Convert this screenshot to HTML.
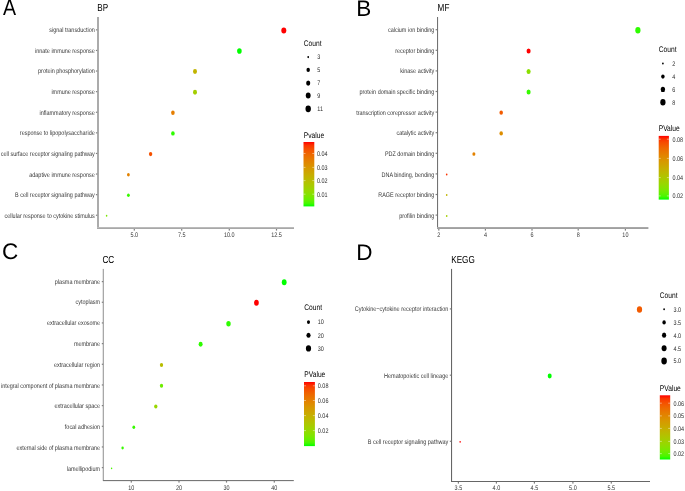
<!DOCTYPE html>
<html><head><meta charset="utf-8"><style>
html,body{margin:0;padding:0;background:#fff;}
svg{display:block;will-change:transform;}
text{font-family:"Liberation Sans",sans-serif;text-rendering:geometricPrecision;}
</style></head><body>
<svg width="685" height="491" viewBox="0 0 685 491">
<rect width="685" height="491" fill="#fff"/>
<text transform="translate(97.30,10.90) scale(0.8,1)" font-size="10.2" fill="#000" text-anchor="start">BP</text>
<rect x="97" y="17" width="2" height="212" fill="#ababab"/>
<rect x="97" y="227" width="197" height="1" fill="#bababa"/>
<rect x="97" y="228" width="197" height="1" fill="#a8a8a8"/>
<rect x="95.9" y="29.25" width="1.4" height="1.2" fill="#808080"/>
<text transform="translate(94.70,31.85) scale(0.815,1)" font-size="6.7" fill="#363636" text-anchor="end">signal transduction</text>
<rect x="95.9" y="49.85" width="1.4" height="1.2" fill="#808080"/>
<text transform="translate(94.70,52.55) scale(0.815,1)" font-size="6.7" fill="#363636" text-anchor="end">innate immune response</text>
<rect x="95.9" y="70.45" width="1.4" height="1.2" fill="#808080"/>
<text transform="translate(94.70,73.25) scale(0.815,1)" font-size="6.7" fill="#363636" text-anchor="end">protein phosphorylation</text>
<rect x="95.9" y="91.05" width="1.4" height="1.2" fill="#808080"/>
<text transform="translate(94.70,93.95) scale(0.815,1)" font-size="6.7" fill="#363636" text-anchor="end">immune response</text>
<rect x="95.9" y="111.65" width="1.4" height="1.2" fill="#808080"/>
<text transform="translate(94.70,114.65) scale(0.815,1)" font-size="6.7" fill="#363636" text-anchor="end">inflammatory response</text>
<rect x="95.9" y="132.25" width="1.4" height="1.2" fill="#808080"/>
<text transform="translate(94.70,135.35) scale(0.815,1)" font-size="6.7" fill="#363636" text-anchor="end">response to lipopolysaccharide</text>
<rect x="95.9" y="152.85" width="1.4" height="1.2" fill="#808080"/>
<text transform="translate(94.70,156.05) scale(0.815,1)" font-size="6.7" fill="#363636" text-anchor="end">cell surface receptor signaling pathway</text>
<rect x="95.9" y="173.45" width="1.4" height="1.2" fill="#808080"/>
<text transform="translate(94.70,176.75) scale(0.815,1)" font-size="6.7" fill="#363636" text-anchor="end">adaptive immune response</text>
<rect x="95.9" y="194.05" width="1.4" height="1.2" fill="#808080"/>
<text transform="translate(94.70,197.45) scale(0.815,1)" font-size="6.7" fill="#363636" text-anchor="end">B cell receptor signaling pathway</text>
<rect x="95.9" y="214.65" width="1.4" height="1.2" fill="#808080"/>
<text transform="translate(94.70,218.15) scale(0.815,1)" font-size="6.7" fill="#363636" text-anchor="end">cellular response to cytokine stimulus</text>
<rect x="133.70" y="229" width="1.2" height="1.6" fill="#808080"/>
<text transform="translate(134.30,237.00) scale(0.815,1)" font-size="6.7" fill="#363636" text-anchor="middle">5.0</text>
<rect x="181.10" y="229" width="1.2" height="1.6" fill="#808080"/>
<text transform="translate(181.70,237.00) scale(0.815,1)" font-size="6.7" fill="#363636" text-anchor="middle">7.5</text>
<rect x="228.70" y="229" width="1.2" height="1.6" fill="#808080"/>
<text transform="translate(229.30,237.00) scale(0.815,1)" font-size="6.7" fill="#363636" text-anchor="middle">10.0</text>
<rect x="275.90" y="229" width="1.2" height="1.6" fill="#808080"/>
<text transform="translate(276.50,237.00) scale(0.815,1)" font-size="6.7" fill="#363636" text-anchor="middle">12.5</text>
<ellipse cx="283.80" cy="30.50" rx="2.50" ry="3.07" fill="#ff0000"/>
<ellipse cx="239.40" cy="51.00" rx="2.30" ry="2.82" fill="#00ff00"/>
<ellipse cx="195.00" cy="71.50" rx="2.00" ry="2.45" fill="#c1b400"/>
<ellipse cx="195.00" cy="92.30" rx="2.00" ry="2.45" fill="#a4ce00"/>
<ellipse cx="172.90" cy="112.80" rx="1.80" ry="2.21" fill="#e57e00"/>
<ellipse cx="172.90" cy="133.40" rx="1.80" ry="2.21" fill="#2efc00"/>
<ellipse cx="150.60" cy="154.10" rx="1.70" ry="2.09" fill="#f55100"/>
<ellipse cx="128.40" cy="174.70" rx="1.40" ry="1.72" fill="#e38200"/>
<ellipse cx="128.40" cy="195.20" rx="1.40" ry="1.72" fill="#38fa00"/>
<ellipse cx="106.60" cy="215.80" rx="0.80" ry="0.98" fill="#7ae700"/>
<text transform="translate(303.80,46.00) scale(0.815,1)" font-size="8.2" fill="#000" text-anchor="start">Count</text>
<ellipse cx="308.20" cy="57.10" rx="0.88" ry="1.07" fill="#000"/>
<text transform="translate(317.30,59.40) scale(0.815,1)" font-size="6.7" fill="#2b2b2b" text-anchor="start">3</text>
<ellipse cx="308.20" cy="69.90" rx="1.73" ry="2.12" fill="#000"/>
<text transform="translate(317.30,72.20) scale(0.815,1)" font-size="6.7" fill="#2b2b2b" text-anchor="start">5</text>
<ellipse cx="308.20" cy="83.10" rx="2.08" ry="2.55" fill="#000"/>
<text transform="translate(317.30,85.40) scale(0.815,1)" font-size="6.7" fill="#2b2b2b" text-anchor="start">7</text>
<ellipse cx="308.20" cy="95.60" rx="2.43" ry="2.98" fill="#000"/>
<text transform="translate(317.30,97.90) scale(0.815,1)" font-size="6.7" fill="#2b2b2b" text-anchor="start">9</text>
<ellipse cx="308.20" cy="108.80" rx="2.73" ry="3.34" fill="#000"/>
<text transform="translate(317.30,111.10) scale(0.815,1)" font-size="6.7" fill="#2b2b2b" text-anchor="start">11</text>
<text transform="translate(303.80,137.60) scale(0.815,1)" font-size="8.2" fill="#000" text-anchor="start">Pvalue</text>
<defs><linearGradient id="g1" x1="0" y1="0" x2="0" y2="1"><stop offset="0.000" stop-color="#ff0000"/><stop offset="0.050" stop-color="#fb3300"/><stop offset="0.100" stop-color="#f74a00"/><stop offset="0.150" stop-color="#f25b00"/><stop offset="0.200" stop-color="#ed6a00"/><stop offset="0.250" stop-color="#e87600"/><stop offset="0.300" stop-color="#e38200"/><stop offset="0.350" stop-color="#dd8d00"/><stop offset="0.400" stop-color="#d79800"/><stop offset="0.450" stop-color="#d0a100"/><stop offset="0.500" stop-color="#c9ab00"/><stop offset="0.550" stop-color="#c1b400"/><stop offset="0.600" stop-color="#b8bd00"/><stop offset="0.650" stop-color="#aec600"/><stop offset="0.700" stop-color="#a4ce00"/><stop offset="0.750" stop-color="#98d700"/><stop offset="0.800" stop-color="#8adf00"/><stop offset="0.850" stop-color="#7ae700"/><stop offset="0.900" stop-color="#65ef00"/><stop offset="0.950" stop-color="#49f700"/><stop offset="1.000" stop-color="#00ff00"/></linearGradient></defs>
<rect x="303.5" y="142.0" width="10.800000000000011" height="64.4" fill="url(#g1)"/>
<line x1="303.50" y1="153.50" x2="305.50" y2="153.50" stroke="#ffffff" stroke-width="0.45"/>
<line x1="312.30" y1="153.50" x2="314.30" y2="153.50" stroke="#ffffff" stroke-width="0.45"/>
<text transform="translate(317.00,155.80) scale(0.815,1)" font-size="6.7" fill="#2b2b2b" text-anchor="start">0.04</text>
<line x1="303.50" y1="167.40" x2="305.50" y2="167.40" stroke="#ffffff" stroke-width="0.45"/>
<line x1="312.30" y1="167.40" x2="314.30" y2="167.40" stroke="#ffffff" stroke-width="0.45"/>
<text transform="translate(317.00,169.70) scale(0.815,1)" font-size="6.7" fill="#2b2b2b" text-anchor="start">0.03</text>
<line x1="303.50" y1="180.60" x2="305.50" y2="180.60" stroke="#ffffff" stroke-width="0.45"/>
<line x1="312.30" y1="180.60" x2="314.30" y2="180.60" stroke="#ffffff" stroke-width="0.45"/>
<text transform="translate(317.00,182.90) scale(0.815,1)" font-size="6.7" fill="#2b2b2b" text-anchor="start">0.02</text>
<line x1="303.50" y1="194.20" x2="305.50" y2="194.20" stroke="#ffffff" stroke-width="0.45"/>
<line x1="312.30" y1="194.20" x2="314.30" y2="194.20" stroke="#ffffff" stroke-width="0.45"/>
<text transform="translate(317.00,196.50) scale(0.815,1)" font-size="6.7" fill="#2b2b2b" text-anchor="start">0.01</text>
<text transform="translate(437.60,10.90) scale(0.8,1)" font-size="10.2" fill="#000" text-anchor="start">MF</text>
<rect x="437" y="17" width="1" height="212" fill="#727272"/>
<rect x="438" y="17" width="0.5" height="212" fill="#e8e8e8"/>
<rect x="437" y="227" width="211.4" height="1" fill="#a8a8a8"/>
<rect x="437" y="228" width="211.4" height="1" fill="#a0a0a0"/>
<rect x="435.6" y="29.10" width="1.4" height="1.2" fill="#808080"/>
<text transform="translate(434.30,31.80) scale(0.815,1)" font-size="6.7" fill="#363636" text-anchor="end">calcium ion binding</text>
<rect x="435.6" y="49.70" width="1.4" height="1.2" fill="#808080"/>
<text transform="translate(434.30,52.50) scale(0.815,1)" font-size="6.7" fill="#363636" text-anchor="end">receptor binding</text>
<rect x="435.6" y="70.30" width="1.4" height="1.2" fill="#808080"/>
<text transform="translate(434.30,73.20) scale(0.815,1)" font-size="6.7" fill="#363636" text-anchor="end">kinase activity</text>
<rect x="435.6" y="90.90" width="1.4" height="1.2" fill="#808080"/>
<text transform="translate(434.30,93.90) scale(0.815,1)" font-size="6.7" fill="#363636" text-anchor="end">protein domain specific binding</text>
<rect x="435.6" y="111.50" width="1.4" height="1.2" fill="#808080"/>
<text transform="translate(434.30,114.60) scale(0.815,1)" font-size="6.7" fill="#363636" text-anchor="end">transcription corepressor activity</text>
<rect x="435.6" y="132.10" width="1.4" height="1.2" fill="#808080"/>
<text transform="translate(434.30,135.30) scale(0.815,1)" font-size="6.7" fill="#363636" text-anchor="end">catalytic activity</text>
<rect x="435.6" y="152.70" width="1.4" height="1.2" fill="#808080"/>
<text transform="translate(434.30,156.00) scale(0.815,1)" font-size="6.7" fill="#363636" text-anchor="end">PDZ domain binding</text>
<rect x="435.6" y="173.30" width="1.4" height="1.2" fill="#808080"/>
<text transform="translate(434.30,176.70) scale(0.815,1)" font-size="6.7" fill="#363636" text-anchor="end">DNA binding, bending</text>
<rect x="435.6" y="193.90" width="1.4" height="1.2" fill="#808080"/>
<text transform="translate(434.30,197.40) scale(0.815,1)" font-size="6.7" fill="#363636" text-anchor="end">RAGE receptor binding</text>
<rect x="435.6" y="214.50" width="1.4" height="1.2" fill="#808080"/>
<text transform="translate(434.30,218.10) scale(0.815,1)" font-size="6.7" fill="#363636" text-anchor="end">profilin binding</text>
<rect x="438.20" y="229" width="1.2" height="1.6" fill="#808080"/>
<text transform="translate(438.80,236.90) scale(0.815,1)" font-size="6.7" fill="#363636" text-anchor="middle">2</text>
<rect x="484.80" y="229" width="1.2" height="1.6" fill="#808080"/>
<text transform="translate(485.40,236.90) scale(0.815,1)" font-size="6.7" fill="#363636" text-anchor="middle">4</text>
<rect x="531.40" y="229" width="1.2" height="1.6" fill="#808080"/>
<text transform="translate(532.00,236.90) scale(0.815,1)" font-size="6.7" fill="#363636" text-anchor="middle">6</text>
<rect x="577.60" y="229" width="1.2" height="1.6" fill="#808080"/>
<text transform="translate(578.20,236.90) scale(0.815,1)" font-size="6.7" fill="#363636" text-anchor="middle">8</text>
<rect x="624.80" y="229" width="1.2" height="1.6" fill="#808080"/>
<text transform="translate(625.40,236.90) scale(0.815,1)" font-size="6.7" fill="#363636" text-anchor="middle">10</text>
<ellipse cx="637.90" cy="30.20" rx="2.60" ry="3.19" fill="#2efc00"/>
<ellipse cx="528.60" cy="50.90" rx="2.05" ry="2.52" fill="#ff0000"/>
<ellipse cx="528.60" cy="71.50" rx="2.05" ry="2.52" fill="#8adf00"/>
<ellipse cx="528.60" cy="91.90" rx="2.05" ry="2.52" fill="#38fa00"/>
<ellipse cx="501.20" cy="112.70" rx="1.75" ry="2.15" fill="#f25b00"/>
<ellipse cx="501.20" cy="133.40" rx="1.75" ry="2.15" fill="#dd8d00"/>
<ellipse cx="473.90" cy="154.00" rx="1.50" ry="1.84" fill="#e38200"/>
<ellipse cx="446.70" cy="174.40" rx="0.80" ry="0.98" fill="#fb3300"/>
<ellipse cx="446.70" cy="195.00" rx="0.80" ry="0.98" fill="#c1b400"/>
<ellipse cx="446.70" cy="215.90" rx="0.80" ry="0.98" fill="#a4ce00"/>
<text transform="translate(658.70,52.30) scale(0.815,1)" font-size="8.2" fill="#000" text-anchor="start">Count</text>
<ellipse cx="662.90" cy="63.50" rx="0.88" ry="1.07" fill="#000"/>
<text transform="translate(672.20,65.80) scale(0.815,1)" font-size="6.7" fill="#2b2b2b" text-anchor="start">2</text>
<ellipse cx="662.90" cy="76.60" rx="1.73" ry="2.12" fill="#000"/>
<text transform="translate(672.20,78.90) scale(0.815,1)" font-size="6.7" fill="#2b2b2b" text-anchor="start">4</text>
<ellipse cx="662.90" cy="89.40" rx="2.17" ry="2.67" fill="#000"/>
<text transform="translate(672.20,91.70) scale(0.815,1)" font-size="6.7" fill="#2b2b2b" text-anchor="start">6</text>
<ellipse cx="662.90" cy="102.30" rx="2.62" ry="3.22" fill="#000"/>
<text transform="translate(672.20,104.60) scale(0.815,1)" font-size="6.7" fill="#2b2b2b" text-anchor="start">8</text>
<text transform="translate(658.70,131.00) scale(0.815,1)" font-size="8.2" fill="#000" text-anchor="start">PValue</text>
<defs><linearGradient id="g2" x1="0" y1="0" x2="0" y2="1"><stop offset="0.000" stop-color="#ff0000"/><stop offset="0.050" stop-color="#fb3300"/><stop offset="0.100" stop-color="#f74a00"/><stop offset="0.150" stop-color="#f25b00"/><stop offset="0.200" stop-color="#ed6a00"/><stop offset="0.250" stop-color="#e87600"/><stop offset="0.300" stop-color="#e38200"/><stop offset="0.350" stop-color="#dd8d00"/><stop offset="0.400" stop-color="#d79800"/><stop offset="0.450" stop-color="#d0a100"/><stop offset="0.500" stop-color="#c9ab00"/><stop offset="0.550" stop-color="#c1b400"/><stop offset="0.600" stop-color="#b8bd00"/><stop offset="0.650" stop-color="#aec600"/><stop offset="0.700" stop-color="#a4ce00"/><stop offset="0.750" stop-color="#98d700"/><stop offset="0.800" stop-color="#8adf00"/><stop offset="0.850" stop-color="#7ae700"/><stop offset="0.900" stop-color="#65ef00"/><stop offset="0.950" stop-color="#49f700"/><stop offset="1.000" stop-color="#00ff00"/></linearGradient></defs>
<rect x="658.7" y="135.9" width="10.199999999999932" height="63.69999999999999" fill="url(#g2)"/>
<line x1="658.70" y1="139.20" x2="660.70" y2="139.20" stroke="#ffffff" stroke-width="0.45"/>
<line x1="666.90" y1="139.20" x2="668.90" y2="139.20" stroke="#ffffff" stroke-width="0.45"/>
<text transform="translate(672.50,141.50) scale(0.815,1)" font-size="6.7" fill="#2b2b2b" text-anchor="start">0.08</text>
<line x1="658.70" y1="158.40" x2="660.70" y2="158.40" stroke="#ffffff" stroke-width="0.45"/>
<line x1="666.90" y1="158.40" x2="668.90" y2="158.40" stroke="#ffffff" stroke-width="0.45"/>
<text transform="translate(672.50,160.70) scale(0.815,1)" font-size="6.7" fill="#2b2b2b" text-anchor="start">0.06</text>
<line x1="658.70" y1="177.60" x2="660.70" y2="177.60" stroke="#ffffff" stroke-width="0.45"/>
<line x1="666.90" y1="177.60" x2="668.90" y2="177.60" stroke="#ffffff" stroke-width="0.45"/>
<text transform="translate(672.50,179.90) scale(0.815,1)" font-size="6.7" fill="#2b2b2b" text-anchor="start">0.04</text>
<line x1="658.70" y1="195.90" x2="660.70" y2="195.90" stroke="#ffffff" stroke-width="0.45"/>
<line x1="666.90" y1="195.90" x2="668.90" y2="195.90" stroke="#ffffff" stroke-width="0.45"/>
<text transform="translate(672.50,198.20) scale(0.815,1)" font-size="6.7" fill="#2b2b2b" text-anchor="start">0.02</text>
<text transform="translate(102.40,262.70) scale(0.8,1)" font-size="10.2" fill="#000" text-anchor="start">CC</text>
<rect x="103" y="268.9" width="1" height="212" fill="#a8a8a8"/>
<rect x="102" y="268.9" width="1" height="212" fill="#e4e4e4"/>
<rect x="103" y="480" width="190.8" height="1" fill="#777777"/>
<rect x="103" y="481" width="190.8" height="0.5" fill="#dddddd"/>
<rect x="101.8" y="281.00" width="1.4" height="1.2" fill="#808080"/>
<text transform="translate(100.00,283.70) scale(0.815,1)" font-size="6.7" fill="#363636" text-anchor="end">plasma membrane</text>
<rect x="101.8" y="301.67" width="1.4" height="1.2" fill="#808080"/>
<text transform="translate(100.00,304.48) scale(0.815,1)" font-size="6.7" fill="#363636" text-anchor="end">cytoplasm</text>
<rect x="101.8" y="322.34" width="1.4" height="1.2" fill="#808080"/>
<text transform="translate(100.00,325.26) scale(0.815,1)" font-size="6.7" fill="#363636" text-anchor="end">extracellular exosome</text>
<rect x="101.8" y="343.01" width="1.4" height="1.2" fill="#808080"/>
<text transform="translate(100.00,346.04) scale(0.815,1)" font-size="6.7" fill="#363636" text-anchor="end">membrane</text>
<rect x="101.8" y="363.68" width="1.4" height="1.2" fill="#808080"/>
<text transform="translate(100.00,366.82) scale(0.815,1)" font-size="6.7" fill="#363636" text-anchor="end">extracellular region</text>
<rect x="101.8" y="384.35" width="1.4" height="1.2" fill="#808080"/>
<text transform="translate(100.00,387.60) scale(0.815,1)" font-size="6.7" fill="#363636" text-anchor="end">integral component of plasma membrane</text>
<rect x="101.8" y="405.02" width="1.4" height="1.2" fill="#808080"/>
<text transform="translate(100.00,408.38) scale(0.815,1)" font-size="6.7" fill="#363636" text-anchor="end">extracellular space</text>
<rect x="101.8" y="425.69" width="1.4" height="1.2" fill="#808080"/>
<text transform="translate(100.00,429.16) scale(0.815,1)" font-size="6.7" fill="#363636" text-anchor="end">focal adhesion</text>
<rect x="101.8" y="446.36" width="1.4" height="1.2" fill="#808080"/>
<text transform="translate(100.00,449.94) scale(0.815,1)" font-size="6.7" fill="#363636" text-anchor="end">external side of plasma membrane</text>
<rect x="101.8" y="467.03" width="1.4" height="1.2" fill="#808080"/>
<text transform="translate(100.00,470.72) scale(0.815,1)" font-size="6.7" fill="#363636" text-anchor="end">lamellipodium</text>
<rect x="130.70" y="481" width="1.2" height="1.6" fill="#808080"/>
<text transform="translate(131.30,489.60) scale(0.815,1)" font-size="6.7" fill="#363636" text-anchor="middle">10</text>
<rect x="178.40" y="481" width="1.2" height="1.6" fill="#808080"/>
<text transform="translate(179.00,489.60) scale(0.815,1)" font-size="6.7" fill="#363636" text-anchor="middle">20</text>
<rect x="225.90" y="481" width="1.2" height="1.6" fill="#808080"/>
<text transform="translate(226.50,489.60) scale(0.815,1)" font-size="6.7" fill="#363636" text-anchor="middle">30</text>
<rect x="273.70" y="481" width="1.2" height="1.6" fill="#808080"/>
<text transform="translate(274.30,489.60) scale(0.815,1)" font-size="6.7" fill="#363636" text-anchor="middle">40</text>
<ellipse cx="284.20" cy="282.30" rx="2.40" ry="2.94" fill="#00ff00"/>
<ellipse cx="256.40" cy="302.80" rx="2.40" ry="2.94" fill="#ff0000"/>
<ellipse cx="228.50" cy="323.70" rx="2.20" ry="2.70" fill="#2efc00"/>
<ellipse cx="200.60" cy="344.30" rx="2.00" ry="2.45" fill="#2efc00"/>
<ellipse cx="161.50" cy="365.00" rx="1.65" ry="2.02" fill="#b8bd00"/>
<ellipse cx="161.50" cy="385.80" rx="1.65" ry="2.02" fill="#6eec00"/>
<ellipse cx="155.80" cy="406.40" rx="1.65" ry="2.02" fill="#98d700"/>
<ellipse cx="133.80" cy="427.20" rx="1.40" ry="1.72" fill="#38fa00"/>
<ellipse cx="122.60" cy="448.00" rx="1.20" ry="1.47" fill="#38fa00"/>
<ellipse cx="111.60" cy="468.30" rx="0.70" ry="0.86" fill="#49f700"/>
<text transform="translate(304.30,310.40) scale(0.815,1)" font-size="8.2" fill="#000" text-anchor="start">Count</text>
<ellipse cx="308.50" cy="322.10" rx="1.53" ry="1.87" fill="#000"/>
<text transform="translate(317.80,324.40) scale(0.815,1)" font-size="6.7" fill="#2b2b2b" text-anchor="start">10</text>
<ellipse cx="308.50" cy="335.30" rx="2.08" ry="2.55" fill="#000"/>
<text transform="translate(317.80,337.60) scale(0.815,1)" font-size="6.7" fill="#2b2b2b" text-anchor="start">20</text>
<ellipse cx="308.50" cy="348.40" rx="2.58" ry="3.16" fill="#000"/>
<text transform="translate(317.80,350.70) scale(0.815,1)" font-size="6.7" fill="#2b2b2b" text-anchor="start">30</text>
<text transform="translate(304.30,376.90) scale(0.815,1)" font-size="8.2" fill="#000" text-anchor="start">PValue</text>
<defs><linearGradient id="g3" x1="0" y1="0" x2="0" y2="1"><stop offset="0.000" stop-color="#ff0000"/><stop offset="0.050" stop-color="#fb3300"/><stop offset="0.100" stop-color="#f74a00"/><stop offset="0.150" stop-color="#f25b00"/><stop offset="0.200" stop-color="#ed6a00"/><stop offset="0.250" stop-color="#e87600"/><stop offset="0.300" stop-color="#e38200"/><stop offset="0.350" stop-color="#dd8d00"/><stop offset="0.400" stop-color="#d79800"/><stop offset="0.450" stop-color="#d0a100"/><stop offset="0.500" stop-color="#c9ab00"/><stop offset="0.550" stop-color="#c1b400"/><stop offset="0.600" stop-color="#b8bd00"/><stop offset="0.650" stop-color="#aec600"/><stop offset="0.700" stop-color="#a4ce00"/><stop offset="0.750" stop-color="#98d700"/><stop offset="0.800" stop-color="#8adf00"/><stop offset="0.850" stop-color="#7ae700"/><stop offset="0.900" stop-color="#65ef00"/><stop offset="0.950" stop-color="#49f700"/><stop offset="1.000" stop-color="#00ff00"/></linearGradient></defs>
<rect x="304.0" y="382.0" width="10.899999999999977" height="64.10000000000002" fill="url(#g3)"/>
<line x1="304.00" y1="385.80" x2="306.00" y2="385.80" stroke="#ffffff" stroke-width="0.45"/>
<line x1="312.90" y1="385.80" x2="314.90" y2="385.80" stroke="#ffffff" stroke-width="0.45"/>
<text transform="translate(317.80,388.10) scale(0.815,1)" font-size="6.7" fill="#2b2b2b" text-anchor="start">0.08</text>
<line x1="304.00" y1="400.50" x2="306.00" y2="400.50" stroke="#ffffff" stroke-width="0.45"/>
<line x1="312.90" y1="400.50" x2="314.90" y2="400.50" stroke="#ffffff" stroke-width="0.45"/>
<text transform="translate(317.80,402.80) scale(0.815,1)" font-size="6.7" fill="#2b2b2b" text-anchor="start">0.06</text>
<line x1="304.00" y1="415.60" x2="306.00" y2="415.60" stroke="#ffffff" stroke-width="0.45"/>
<line x1="312.90" y1="415.60" x2="314.90" y2="415.60" stroke="#ffffff" stroke-width="0.45"/>
<text transform="translate(317.80,417.90) scale(0.815,1)" font-size="6.7" fill="#2b2b2b" text-anchor="start">0.04</text>
<line x1="304.00" y1="430.60" x2="306.00" y2="430.60" stroke="#ffffff" stroke-width="0.45"/>
<line x1="312.90" y1="430.60" x2="314.90" y2="430.60" stroke="#ffffff" stroke-width="0.45"/>
<text transform="translate(317.80,432.90) scale(0.815,1)" font-size="6.7" fill="#2b2b2b" text-anchor="start">0.02</text>
<text transform="translate(451.20,262.80) scale(0.8,1)" font-size="10.2" fill="#000" text-anchor="start">KEGG</text>
<rect x="451" y="268.9" width="1" height="213" fill="#666666"/>
<rect x="451" y="481" width="199" height="1" fill="#666666"/>
<rect x="452" y="268.9" width="0.4" height="212" fill="#e0e0e0"/>
<rect x="449.8" y="308.30" width="1.4" height="1.2" fill="#808080"/>
<text transform="translate(448.30,311.00) scale(0.823,1)" font-size="6.7" fill="#363636" text-anchor="end">Cytokine−cytokine receptor interaction</text>
<rect x="449.8" y="374.60" width="1.4" height="1.2" fill="#808080"/>
<text transform="translate(448.30,378.00) scale(0.823,1)" font-size="6.7" fill="#363636" text-anchor="end">Hematopoietic cell lineage</text>
<rect x="449.8" y="440.70" width="1.4" height="1.2" fill="#808080"/>
<text transform="translate(448.30,444.30) scale(0.823,1)" font-size="6.7" fill="#363636" text-anchor="end">B cell receptor signaling pathway</text>
<rect x="457.80" y="482" width="1.2" height="1.6" fill="#808080"/>
<text transform="translate(458.40,490.00) scale(0.815,1)" font-size="6.7" fill="#363636" text-anchor="middle">3.5</text>
<rect x="495.80" y="482" width="1.2" height="1.6" fill="#808080"/>
<text transform="translate(496.40,490.00) scale(0.815,1)" font-size="6.7" fill="#363636" text-anchor="middle">4.0</text>
<rect x="533.80" y="482" width="1.2" height="1.6" fill="#808080"/>
<text transform="translate(534.40,490.00) scale(0.815,1)" font-size="6.7" fill="#363636" text-anchor="middle">4.5</text>
<rect x="572.30" y="482" width="1.2" height="1.6" fill="#808080"/>
<text transform="translate(572.90,490.00) scale(0.815,1)" font-size="6.7" fill="#363636" text-anchor="middle">5.0</text>
<rect x="610.70" y="482" width="1.2" height="1.6" fill="#808080"/>
<text transform="translate(611.30,490.00) scale(0.815,1)" font-size="6.7" fill="#363636" text-anchor="middle">5.5</text>
<ellipse cx="639.50" cy="309.50" rx="2.60" ry="3.19" fill="#f25b00"/>
<ellipse cx="549.70" cy="376.00" rx="2.00" ry="2.45" fill="#00ff00"/>
<ellipse cx="460.10" cy="441.80" rx="0.75" ry="0.92" fill="#ff0000"/>
<text transform="translate(659.80,297.70) scale(0.815,1)" font-size="8.2" fill="#000" text-anchor="start">Count</text>
<ellipse cx="664.10" cy="309.30" rx="0.88" ry="1.07" fill="#000"/>
<text transform="translate(673.50,311.60) scale(0.815,1)" font-size="6.7" fill="#2b2b2b" text-anchor="start">3.0</text>
<ellipse cx="664.10" cy="322.40" rx="1.73" ry="2.12" fill="#000"/>
<text transform="translate(673.50,324.70) scale(0.815,1)" font-size="6.7" fill="#2b2b2b" text-anchor="start">3.5</text>
<ellipse cx="664.10" cy="335.20" rx="2.12" ry="2.61" fill="#000"/>
<text transform="translate(673.50,337.50) scale(0.815,1)" font-size="6.7" fill="#2b2b2b" text-anchor="start">4.0</text>
<ellipse cx="664.10" cy="348.20" rx="2.48" ry="3.04" fill="#000"/>
<text transform="translate(673.50,350.50) scale(0.815,1)" font-size="6.7" fill="#2b2b2b" text-anchor="start">4.5</text>
<ellipse cx="664.10" cy="361.00" rx="2.77" ry="3.40" fill="#000"/>
<text transform="translate(673.50,363.30) scale(0.815,1)" font-size="6.7" fill="#2b2b2b" text-anchor="start">5.0</text>
<text transform="translate(659.80,390.60) scale(0.815,1)" font-size="8.2" fill="#000" text-anchor="start">PValue</text>
<defs><linearGradient id="g4" x1="0" y1="0" x2="0" y2="1"><stop offset="0.000" stop-color="#ff0000"/><stop offset="0.050" stop-color="#fb3300"/><stop offset="0.100" stop-color="#f74a00"/><stop offset="0.150" stop-color="#f25b00"/><stop offset="0.200" stop-color="#ed6a00"/><stop offset="0.250" stop-color="#e87600"/><stop offset="0.300" stop-color="#e38200"/><stop offset="0.350" stop-color="#dd8d00"/><stop offset="0.400" stop-color="#d79800"/><stop offset="0.450" stop-color="#d0a100"/><stop offset="0.500" stop-color="#c9ab00"/><stop offset="0.550" stop-color="#c1b400"/><stop offset="0.600" stop-color="#b8bd00"/><stop offset="0.650" stop-color="#aec600"/><stop offset="0.700" stop-color="#a4ce00"/><stop offset="0.750" stop-color="#98d700"/><stop offset="0.800" stop-color="#8adf00"/><stop offset="0.850" stop-color="#7ae700"/><stop offset="0.900" stop-color="#65ef00"/><stop offset="0.950" stop-color="#49f700"/><stop offset="1.000" stop-color="#00ff00"/></linearGradient></defs>
<rect x="659.8" y="395.3" width="10.400000000000091" height="64.19999999999999" fill="url(#g4)"/>
<line x1="659.80" y1="403.20" x2="661.80" y2="403.20" stroke="#ffffff" stroke-width="0.45"/>
<line x1="668.20" y1="403.20" x2="670.20" y2="403.20" stroke="#ffffff" stroke-width="0.45"/>
<text transform="translate(673.50,405.50) scale(0.815,1)" font-size="6.7" fill="#2b2b2b" text-anchor="start">0.06</text>
<line x1="659.80" y1="415.90" x2="661.80" y2="415.90" stroke="#ffffff" stroke-width="0.45"/>
<line x1="668.20" y1="415.90" x2="670.20" y2="415.90" stroke="#ffffff" stroke-width="0.45"/>
<text transform="translate(673.50,418.20) scale(0.815,1)" font-size="6.7" fill="#2b2b2b" text-anchor="start">0.05</text>
<line x1="659.80" y1="428.40" x2="661.80" y2="428.40" stroke="#ffffff" stroke-width="0.45"/>
<line x1="668.20" y1="428.40" x2="670.20" y2="428.40" stroke="#ffffff" stroke-width="0.45"/>
<text transform="translate(673.50,430.70) scale(0.815,1)" font-size="6.7" fill="#2b2b2b" text-anchor="start">0.04</text>
<line x1="659.80" y1="441.40" x2="661.80" y2="441.40" stroke="#ffffff" stroke-width="0.45"/>
<line x1="668.20" y1="441.40" x2="670.20" y2="441.40" stroke="#ffffff" stroke-width="0.45"/>
<text transform="translate(673.50,443.70) scale(0.815,1)" font-size="6.7" fill="#2b2b2b" text-anchor="start">0.03</text>
<line x1="659.80" y1="453.60" x2="661.80" y2="453.60" stroke="#ffffff" stroke-width="0.45"/>
<line x1="668.20" y1="453.60" x2="670.20" y2="453.60" stroke="#ffffff" stroke-width="0.45"/>
<text transform="translate(673.50,455.90) scale(0.815,1)" font-size="6.7" fill="#2b2b2b" text-anchor="start">0.02</text>
<text transform="translate(2.9,15.3) scale(0.87,1)" font-size="22.5" fill="#000">A</text>
<text x="356.3" y="15.5" font-size="22.5" fill="#000">B</text>
<text x="2.1" y="259.3" font-size="22.5" fill="#000">C</text>
<text x="356.3" y="259.6" font-size="22.5" fill="#000">D</text>
</svg>
</body></html>
